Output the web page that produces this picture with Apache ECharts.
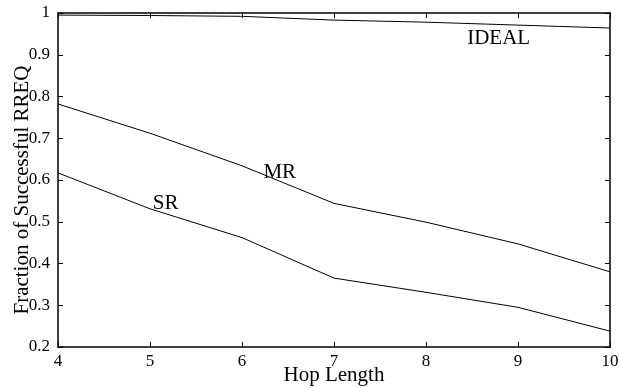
<!DOCTYPE html>
<html>
<head>
<meta charset="utf-8">
<script src="https://cdn.jsdelivr.net/npm/echarts@6/dist/echarts.min.js"></script>
<style>
  html, body { margin: 0; padding: 0; background: #fff; }
  #chart { width: 620px; height: 388px; }
</style>
</head>
<body>
<div id="chart"></div>
<script>
// hop lengths on the x axis
var hops = [4, 5, 6, 7, 8, 9, 10]
// fraction of successful RREQ per scheme
var ideal = [0.995, 0.994, 0.992, 0.983, 0.978, 0.971, 0.964]
var mr = [0.782, 0.712, 0.634, 0.544, 0.499, 0.447, 0.380]
var sr = [0.617, 0.531, 0.462, 0.365, 0.331, 0.295, 0.238]
// where the in-plot names sit, in data units
var names = ['IDEAL', 'MR', 'SR']
var nameAt = [[8.79, 0.94], [6.41, 0.619], [5.17, 0.543]]

var font = '"Liberation Serif", "DejaVu Serif", serif'

function pairs(ys) {
  return hops.map(function (h, i) { return [h, ys[i]] })
}

function lineSeries(name, ys, idx) {
  return {
    name: name,
    type: 'line',
    data: pairs(ys),
    symbol: 'none',
    lineStyle: { color: '#000', width: 1 },
    animation: false,
    markPoint: {
      symbol: 'circle',
      symbolSize: 0,
      silent: true,
      label: {
        show: true,
        formatter: name,
        color: '#000',
        fontFamily: font,
        fontSize: 21
      },
      data: [{ coord: nameAt[idx] }]
    }
  }
}

var chart = echarts.init(document.getElementById('chart'))
var tickStyle = { color: '#000', width: 1 }
chart.setOption({
  backgroundColor: '#fff',
  grid: { left: 58, right: 10, top: 13, bottom: 41, outerBoundsMode: 'none', containLabel: false },
  xAxis: [
    {
      type: 'value', min: 4, max: 10, interval: 1,
      name: 'Hop Length', nameLocation: 'middle', nameGap: 18, nameMoveOverlap: false,
      nameTextStyle: { color: '#000', fontFamily: font, fontSize: 21 },
      axisLine: { lineStyle: { color: '#000', width: 1.5 } },
      axisTick: { inside: true, length: 5, lineStyle: tickStyle },
      axisLabel: { color: '#000', fontFamily: font, fontSize: 17, margin: 6 },
      splitLine: { show: false }
    },
    {
      type: 'value', min: 4, max: 10, interval: 1, position: 'top',
      axisLine: { lineStyle: { color: '#000', width: 1.5 } },
      axisTick: { inside: true, length: 5, lineStyle: tickStyle },
      axisLabel: { show: false },
      splitLine: { show: false }
    }
  ],
  yAxis: [
    {
      type: 'value', min: 0.2, max: 1, interval: 0.1,
      name: 'Fraction of Successful RREQ', nameLocation: 'middle', nameGap: 25, nameMoveOverlap: false,
      nameTextStyle: { color: '#000', fontFamily: font, fontSize: 21, padding: [0, 20, 0, 0] },
      axisLine: { show: true, lineStyle: { color: '#000', width: 1.5 } },
      axisTick: { show: true, inside: true, length: 5, lineStyle: tickStyle },
      axisLabel: {
        color: '#000', fontFamily: font, fontSize: 17, margin: 8,
        formatter: function (v) { return String(Math.round(v * 10) / 10) }
      },
      splitLine: { show: false }
    },
    {
      type: 'value', min: 0.2, max: 1, interval: 0.1, position: 'right',
      axisLine: { show: true, lineStyle: { color: '#000', width: 1.5 } },
      axisTick: { show: true, inside: true, length: 5, lineStyle: tickStyle },
      axisLabel: { show: false },
      splitLine: { show: false }
    }
  ],
  series: [
    lineSeries(names[0], ideal, 0),
    lineSeries(names[1], mr, 1),
    lineSeries(names[2], sr, 2)
  ]
})
</script>
</body>
</html>
